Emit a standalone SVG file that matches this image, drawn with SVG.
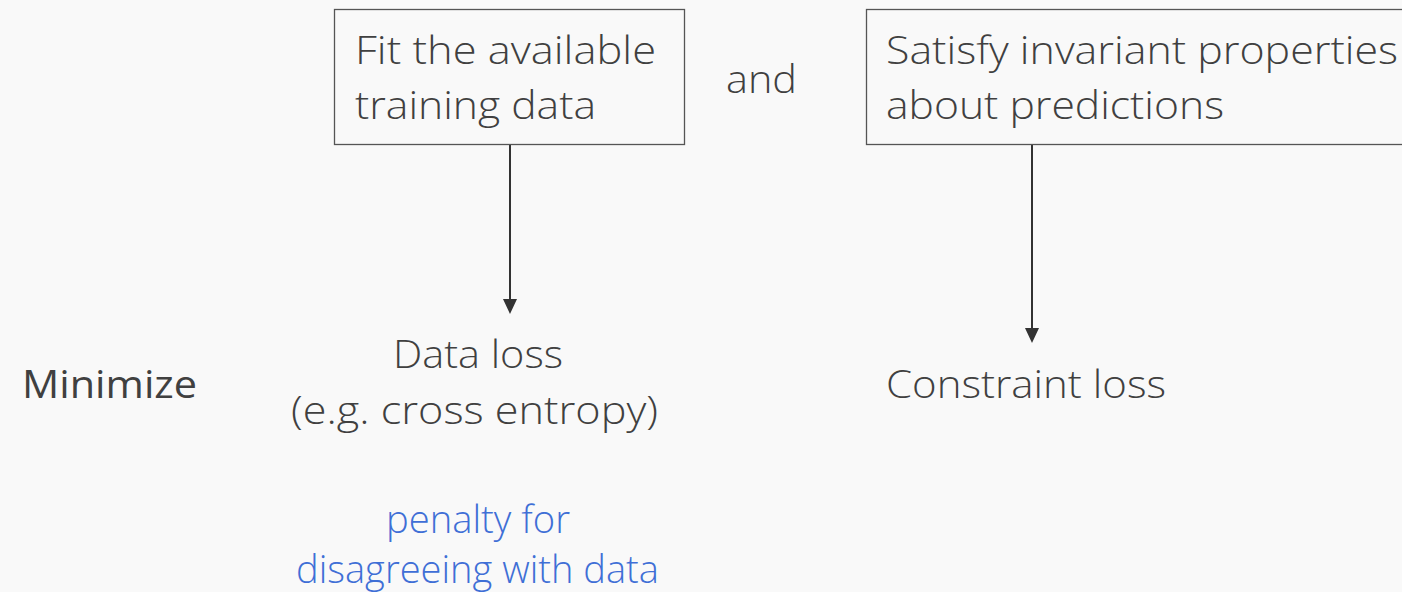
<svg xmlns="http://www.w3.org/2000/svg" width="1402" height="592" viewBox="0 0 1402 592">
<defs>
<style>
.t{font-family:"Open Sans","Liberation Sans",sans-serif;font-weight:300;font-size:38px;fill:#404040}
.b{fill:#3f6fd6}
.box{fill:none;stroke:#555;stroke-width:1.3}
.c{stroke:#333;stroke-width:2;fill:none;marker-end:url(#ah)}
</style>
<marker id="ah" viewBox="0 0 15 14" refX="7" refY="7" markerWidth="15" markerHeight="14" markerUnits="userSpaceOnUse" orient="auto">
<polygon points="0,0 15,7 0,14" fill="#333"/>
</marker>
</defs>
<rect width="1402" height="592" fill="#f9f9f9"/>
<g id="connectors">
<line class="c" x1="510" y1="145" x2="510" y2="306"/>
<line class="c" x1="1032" y1="145" x2="1032" y2="335"/>
</g>
<g id="fit">
<rect class="box" x="334.5" y="9.5" width="350" height="135"/>
<text class="t" x="355" y="64" textLength="301" lengthAdjust="spacingAndGlyphs">Fit the available</text>
<text class="t" x="355" y="119" textLength="241" lengthAdjust="spacingAndGlyphs">training data</text>
</g>
<g id="and">
<text class="t" x="726" y="93" textLength="71" lengthAdjust="spacingAndGlyphs">and</text>
</g>
<g id="satisfy">
<rect class="box" x="866.5" y="9.5" width="545" height="135"/>
<text class="t" x="886" y="64" textLength="512" lengthAdjust="spacingAndGlyphs">Satisfy invariant properties</text>
<text class="t" x="886" y="119" textLength="338" lengthAdjust="spacingAndGlyphs">about predictions</text>
</g>
<g id="minimize">
<text class="t" x="22" y="398" textLength="175" lengthAdjust="spacingAndGlyphs" style="font-weight:400">Minimize</text>
</g>
<g id="dataloss">
<text class="t" x="393" y="368" textLength="170" lengthAdjust="spacingAndGlyphs">Data loss</text>
<text class="t" x="291" y="424" textLength="367" lengthAdjust="spacingAndGlyphs">(e.g. cross entropy)</text>
</g>
<g id="constraint">
<text class="t" x="886" y="398" textLength="280" lengthAdjust="spacingAndGlyphs">Constraint loss</text>
</g>
<g id="penalty">
<text class="t b" x="386" y="533" textLength="184" lengthAdjust="spacingAndGlyphs">penalty for</text>
<text class="t b" x="296" y="583" textLength="363" lengthAdjust="spacingAndGlyphs">disagreeing with data</text>
</g>
</svg>
